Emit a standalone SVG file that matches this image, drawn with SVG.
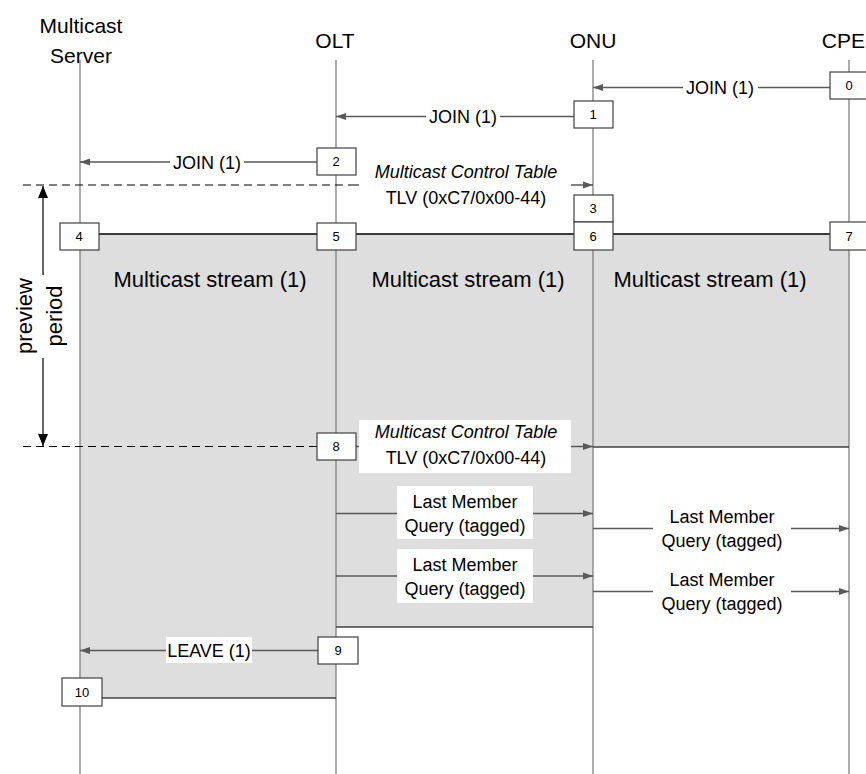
<svg xmlns="http://www.w3.org/2000/svg" width="866" height="774" viewBox="0 0 866 774">
<style>
text{font-family:"Liberation Sans",Arial,sans-serif;fill:#000}
.hdr{font-size:21px;text-anchor:middle}
.msg{font-size:18px;text-anchor:middle}
.it{font-style:italic}
.big{font-size:22px;text-anchor:middle}
.num{font-size:13px;text-anchor:middle}
.life{stroke:#7f7f7f;stroke-width:1.3;fill:none}
.box{fill:#fff;stroke:#404040;stroke-width:1.2}
.arr{stroke:#595959;stroke-width:1.3;fill:none;marker-end:url(#ah)}
.edge{stroke:#404040;stroke-width:1.3;fill:none}
.dash{stroke:#000;stroke-width:1;stroke-dasharray:8 5;fill:none}
.bg{fill:#fff}
.gray{fill:#dedede}
</style>
<defs>
<marker id="ah" markerUnits="userSpaceOnUse" markerWidth="10" markerHeight="8" refX="10" refY="4" orient="auto">
<path d="M0,0.5 L10,4 L0,7.5 z" fill="#595959"/>
</marker>
<marker id="bh" markerUnits="userSpaceOnUse" markerWidth="12" markerHeight="10" refX="12" refY="5" orient="auto-start-reverse">
<path d="M0,0 L12,5 L0,10 z" fill="#000"/>
</marker>
</defs>

<g id="fills">
<rect class="gray" x="80" y="234" width="256" height="464"/>
<rect class="gray" x="336" y="234" width="257" height="393"/>
<rect class="gray" x="593" y="234" width="256" height="213"/>
</g>

<g id="lifelines">
<line class="life" x1="80" y1="60" x2="80" y2="774"/>
<line class="life" x1="336" y1="60" x2="336" y2="774"/>
<line class="life" x1="593" y1="60" x2="593" y2="774"/>
<line class="life" x1="849" y1="60" x2="849" y2="774"/>
</g>

<g id="headers">
<text class="hdr" x="81" y="33">Multicast</text>
<text class="hdr" x="81" y="63">Server</text>
<text class="hdr" x="335" y="48">OLT</text>
<text class="hdr" x="593" y="48">ONU</text>
<text class="hdr" x="865" y="48" style="text-anchor:end">CPE</text>
</g>

<g id="connectors">
<line class="edge" x1="99" y1="234" x2="830" y2="234" style="stroke:#000"/>
<line class="edge" x1="102" y1="698" x2="336" y2="698"/>
<line class="edge" x1="336" y1="627" x2="593" y2="627"/>
<line class="edge" x1="593" y1="447" x2="849" y2="447"/>
<line class="dash" x1="23" y1="185" x2="356" y2="185"/>
<line class="dash" x1="23" y1="446.5" x2="317" y2="446.5"/>
<line x1="43" y1="186" x2="43" y2="275" stroke="#000" stroke-width="1.2" marker-start="url(#bh)"/>
<line x1="43" y1="358" x2="43" y2="446" stroke="#000" stroke-width="1.2" marker-end="url(#bh)"/>
<line class="arr" x1="830" y1="87.5" x2="593" y2="87.5"/>
<line class="arr" x1="574" y1="116.5" x2="336" y2="116.5"/>
<line class="arr" x1="317" y1="162" x2="80" y2="162"/>
<line class="arr" x1="356" y1="185" x2="593" y2="185"/>
<line class="arr" x1="356" y1="446.5" x2="593" y2="446.5"/>
<line class="arr" x1="336" y1="513.5" x2="593" y2="513.5"/>
<line class="arr" x1="336" y1="576" x2="593" y2="576"/>
<line class="arr" x1="593" y1="528.5" x2="849" y2="528.5"/>
<line class="arr" x1="593" y1="591.5" x2="849" y2="591.5"/>
<line class="arr" x1="318" y1="650.5" x2="80" y2="650.5"/>
</g>

<g id="labels">
<rect class="bg" x="683" y="76" width="75" height="22"/>
<text class="msg" x="720" y="94">JOIN (1)</text>
<rect class="bg" x="426" y="105" width="74" height="22"/>
<text class="msg" x="463" y="123">JOIN (1)</text>
<rect class="bg" x="170" y="151" width="74" height="22"/>
<text class="msg" x="207" y="169">JOIN (1)</text>
<rect class="bg" x="359" y="162" width="212" height="48"/>
<text class="msg it" x="466" y="178">Multicast Control Table</text>
<text class="msg" x="466" y="204">TLV (0xC7/0x00-44)</text>
<rect class="bg" x="359" y="420" width="212" height="53"/>
<text class="msg it" x="466" y="438">Multicast Control Table</text>
<text class="msg" x="466" y="464">TLV (0xC7/0x00-44)</text>
<rect class="bg" x="397" y="486" width="136" height="53"/>
<text class="msg" x="465" y="508">Last Member</text>
<text class="msg" x="465" y="532">Query (tagged)</text>
<rect class="bg" x="397" y="549" width="136" height="54"/>
<text class="msg" x="465" y="571">Last Member</text>
<text class="msg" x="465" y="595">Query (tagged)</text>
<rect class="bg" x="653" y="505" width="138" height="48"/>
<text class="msg" x="722" y="523">Last Member</text>
<text class="msg" x="722" y="547">Query (tagged)</text>
<rect class="bg" x="653" y="568" width="138" height="48"/>
<text class="msg" x="722" y="586">Last Member</text>
<text class="msg" x="722" y="610">Query (tagged)</text>
<rect class="bg" x="166" y="637" width="86" height="26"/>
<text class="msg" x="209" y="657">LEAVE (1)</text>
<text class="big" x="210" y="287">Multicast stream (1)</text>
<text class="big" x="468" y="287">Multicast stream (1)</text>
<text class="big" x="710" y="287">Multicast stream (1)</text>
<text class="big" transform="translate(32,316) rotate(-90)">preview</text>
<text class="big" transform="translate(62,316) rotate(-90)">period</text>
</g>

<g id="n0"><rect class="box" x="830" y="72" width="39" height="27"/><text class="num" x="849" y="90">0</text></g>
<g id="n1"><rect class="box" x="574" y="101" width="39" height="27"/><text class="num" x="593" y="119">1</text></g>
<g id="n2"><rect class="box" x="317" y="148" width="39" height="27"/><text class="num" x="336" y="166">2</text></g>
<g id="n3"><rect class="box" x="574" y="195" width="39" height="27"/><text class="num" x="593" y="213">3</text></g>
<g id="n4"><rect class="box" x="60" y="223" width="39" height="27"/><text class="num" x="79" y="241">4</text></g>
<g id="n5"><rect class="box" x="317" y="223" width="39" height="27"/><text class="num" x="336" y="241">5</text></g>
<g id="n6"><rect class="box" x="574" y="222" width="39" height="28"/><text class="num" x="593" y="241">6</text></g>
<g id="n7"><rect class="box" x="830" y="222" width="39" height="28"/><text class="num" x="849" y="241">7</text></g>
<g id="n8"><rect class="box" x="317" y="433" width="39" height="27"/><text class="num" x="336" y="451">8</text></g>
<g id="n9"><rect class="box" x="318" y="637" width="40" height="27"/><text class="num" x="338" y="655">9</text></g>
<g id="n10"><rect class="box" x="62" y="678" width="40" height="28"/><text class="num" x="82" y="697">10</text></g>
</svg>
